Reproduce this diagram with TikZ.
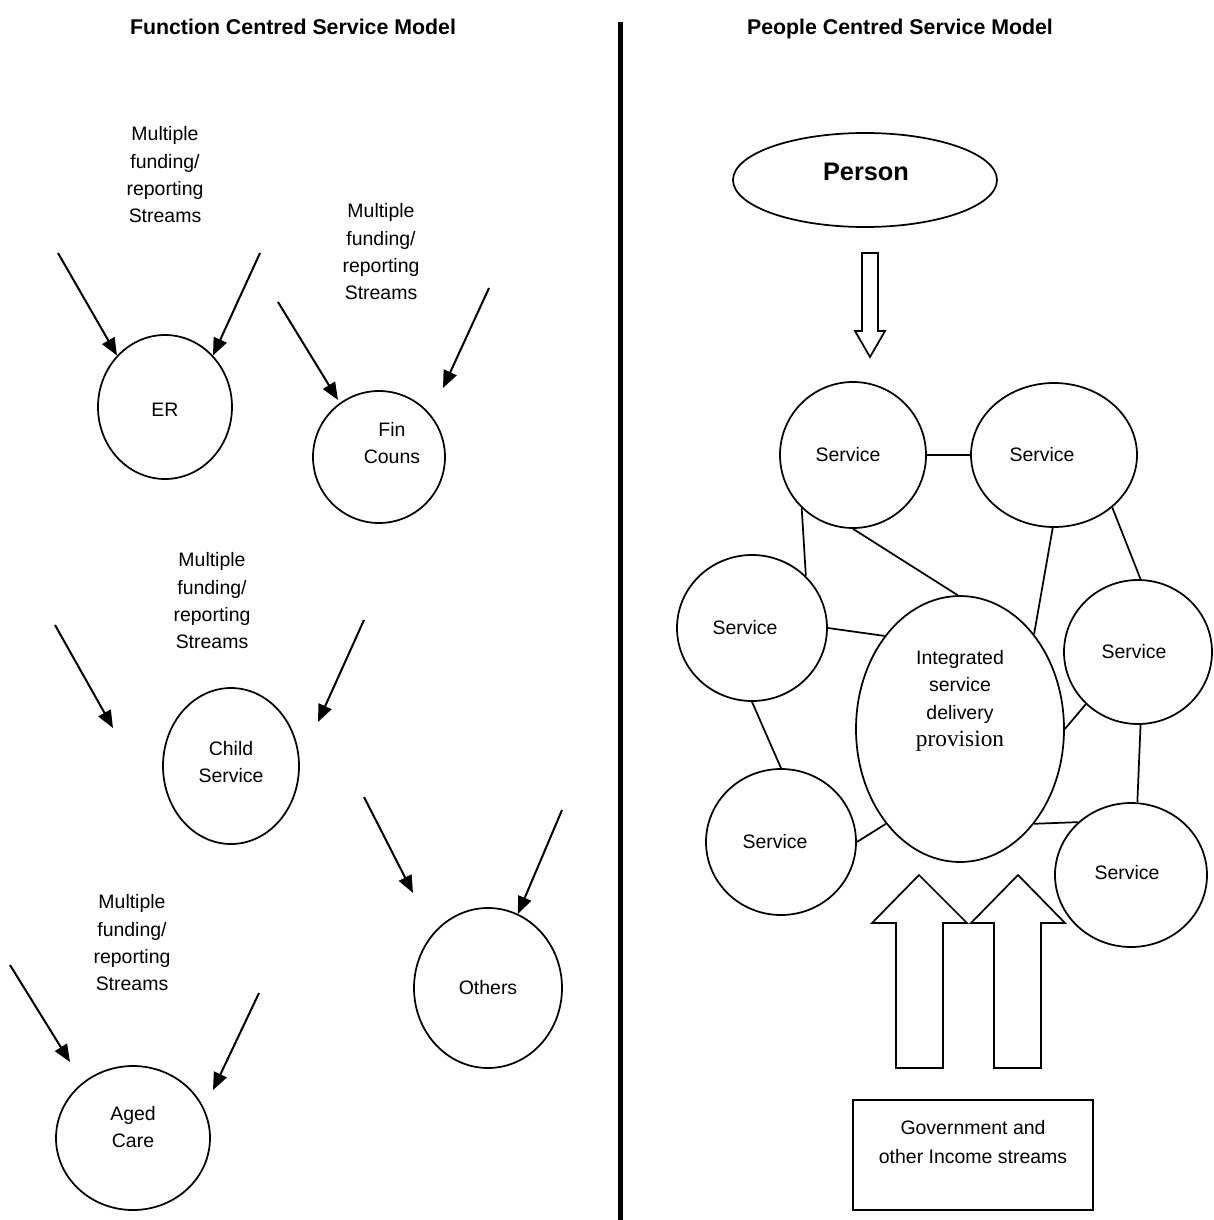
\documentclass[tikz,border=0pt]{standalone}
\usepackage{fontspec}
\setmainfont{Liberation Sans}
\newfontfamily\serifface{Liberation Serif}
\usetikzlibrary{arrows.meta,shapes.geometric}

\begin{document}
\begin{tikzpicture}[x=0.75pt,y=-0.75pt,
  outline/.style={draw, line width=1.3pt},
  blob/.style 2 args={outline, ellipse, inner sep=0pt,
    minimum width=#1*1.5pt, minimum height=#2*1.5pt},
  lbl/.style={align=center, inner sep=0pt, font=\fontsize{14.6}{20.5}\selectfont},
  heading/.style={inner sep=0pt, anchor=base, font=\bfseries\fontsize{16}{20}\selectfont},
  feed/.style={line width=1.5pt, -{Triangle[length=13pt,width=10.5pt]}},
  link/.style={line width=1.3pt},
  bigarrow/.style={draw, line width=1.3pt, line join=miter}]

\useasboundingbox (0,0) rectangle (1213,1220);

% headings and divider
\node[heading] (t1) at (293,35) {Function Centred Service Model};
\node[heading] (t2) at (900,35) {People Centred Service Model};
\draw[line width=4pt] (620.5,22) -- (620.5,1220);

% ---------- function centred side ----------
\node[lbl] (m1) at (165,175) {Multiple\\funding/\\reporting\\Streams};
\node[lbl] (m2) at (381,252) {Multiple\\funding/\\reporting\\Streams};
\node[lbl] (m3) at (212,601) {Multiple\\funding/\\reporting\\Streams};
\node[lbl] (m4) at (132,943) {Multiple\\funding/\\reporting\\Streams};

\node[blob={67}{72}] (er) at (165,407) {};
\node[lbl] (ert) at (165,410) {ER};
\node[blob={66}{66}] (fin) at (379,457) {};
\node[lbl] (fint) at (392,443) {Fin\\Couns};
\node[blob={68}{78}] (child) at (231,766) {};
\node[lbl] (childt) at (231,762) {Child\\Service};
\node[blob={74}{80}] (oth) at (488,988) {};
\node[lbl] (otht) at (488,988) {Others};
\node[blob={77}{72}] (aged) at (133,1138) {};
\node[lbl] (agedt) at (133,1127) {Aged\\Care};

\coordinate (a1) at (58,253);
\coordinate (a2) at (260,253);
\coordinate (a3) at (278,302);
\coordinate (a4) at (489,288);
\coordinate (a5) at (55,625);
\coordinate (a6) at (364,620);
\coordinate (a7) at (364,797);
\coordinate (a8) at (562,810);
\coordinate (a9) at (10,965);
\coordinate (a10) at (259,993);
\coordinate (b3) at (338,400);
\coordinate (b4) at (443,388);
\coordinate (b5) at (113,728);
\coordinate (b6) at (318,722);
\coordinate (b7) at (413,893);
\coordinate (b9) at (70,1062);
\coordinate (b10) at (213,1090);

\draw[feed] (a1) -- (er.133);
\draw[feed] (a2) -- (er.47);
\draw[feed] (a3) -- (b3);
\draw[feed] (a4) -- (b4);
\draw[feed] (a5) -- (b5);
\draw[feed] (a6) -- (b6);
\draw[feed] (a7) -- (b7);
\draw[feed] (a8) -- (oth.68);
\draw[feed] (a9) -- (b9);
\draw[feed] (a10) -- (b10);

% ---------- people centred side ----------
\node[blob={132}{47}] (person) at (865,180) {};
\node[inner sep=0pt, font=\bfseries\fontsize{19}{22}\selectfont] (persont) at (866,172) {Person};

\draw[bigarrow] (862,253) -- (878,253) -- (878,331) -- (885,331) -- (870,357)
  -- (855,331) -- (862,331) -- cycle;

\node[blob={73}{73}] (s1) at (853,455) {};
\node[lbl] (s1t) at (848,455) {Service};
\node[blob={83}{72}] (s2) at (1054,455) {};
\node[lbl] (s2t) at (1042,455) {Service};
\node[blob={75}{73}] (s3) at (752,628) {};
\node[lbl] (s3t) at (745,628) {Service};
\node[blob={74}{72}] (s4) at (1138,652) {};
\node[lbl] (s4t) at (1134,652) {Service};
\node[blob={75}{73}] (s5) at (781,842) {};
\node[lbl] (s5t) at (775,842) {Service};
\node[blob={76}{72}] (s6) at (1131,875) {};
\node[lbl] (s6t) at (1127,873) {Service};

\node[blob={104}{133}] (hub) at (960,729) {};
\node[lbl] (hubt) at (960,701) {Integrated\\service\\delivery\\{\serifface\fontsize{17.5}{20}\selectfont provision}};

\draw[link] (s1.0) -- (s2.180);
\draw[link] (s1.226) -- (s3.44);
\draw[link] (s1.270) -- (hub.91);
\draw[link] (s2.269) -- (hub.52);
\draw[link] (s2.318) -- (s4.88);
\draw[link] (s3.0) -- (hub.129);
\draw[link] (s3.270) -- (s5.90);
\draw[link] (s4.225) -- (hub.0);
\draw[link] (s4.272) -- (s6.85);
\draw[link] (s6.135) -- (hub.308);
\draw[link] (s5.0) -- (hub.232);

\draw[bigarrow] (896,1068) -- (896,923) -- (872,923) -- (919,875) -- (967,923)
  -- (943,923) -- (943,1068) -- cycle;
\draw[bigarrow] (994,1068) -- (994,923) -- (971,923) -- (1018,875) -- (1065,923)
  -- (1041,923) -- (1041,1068) -- cycle;

\node[outline, rectangle, minimum width=180pt, minimum height=82.5pt, inner sep=0pt] (gov) at (973,1155) {};
\node[lbl, font=\fontsize{14.6}{22}\selectfont] (govt) at (973,1142) {Government and\\other Income streams};

\end{tikzpicture}
\end{document}
